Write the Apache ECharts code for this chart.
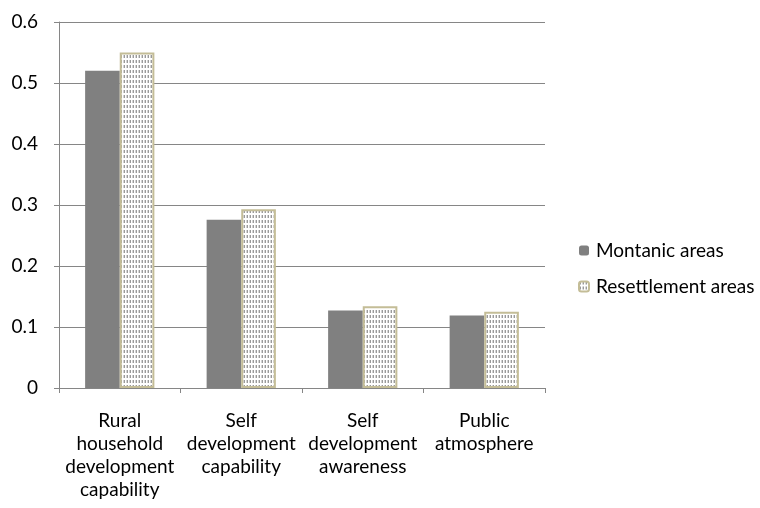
<!DOCTYPE html>
<html>
<head>
<meta charset="utf-8">
<script src="https://cdn.jsdelivr.net/npm/echarts@6/dist/echarts.min.js"></script>
<style>
  html, body { margin: 0; padding: 0; background: #fff; }
  #chart { width: 760px; height: 508px; }
</style>
</head>
<body>
<div id="chart"></div>
<script>
// Dimensions of development capability, by area type
const categories = [
  'Rural\nhousehold\ndevelopment\ncapability',
  'Self\ndevelopment\ncapability',
  'Self\ndevelopment\nawareness',
  'Public\natmosphere'
];
const seriesNames = ['Montanic areas', 'Resettlement areas'];
const montanicValues = [0.52, 0.276, 0.127, 0.119];
const resettlementValues = [0.55, 0.293, 0.134, 0.125];
const yTicks = { min: 0, max: 0.6, interval: 0.1 };

// Small repeating tile: short vertical dashes on white
function makeDashPattern() {
  const c = document.createElement('canvas');
  c.width = 3; c.height = 5;
  const g = c.getContext('2d');
  g.fillStyle = '#ffffff';
  g.fillRect(0, 0, 3, 5);
  g.fillStyle = '#9a9a9a';
  g.fillRect(1, 0, 1, 3);
  g.fillStyle = '#d4d4d4';
  g.fillRect(0, 0, 1, 3);
  return c;
}

const FONT = 'Lato, "Noto Sans", sans-serif';
const FONT_SIZE = 19;
const axisGrey = '#868686';
const chart = echarts.init(document.getElementById('chart'), null, { renderer: 'canvas' });

chart.setOption({
  animation: false,
  textStyle: { fontFamily: FONT },
  grid: { left: 59, right: 215, top: 22, bottom: 120 },
  legend: {
    orient: 'vertical',
    left: 573,
    top: 236,
    itemWidth: 10,
    itemHeight: 10,
    itemGap: 17,
    textStyle: { fontFamily: FONT, fontSize: FONT_SIZE, color: '#000', padding: [0, 0, 0, 2] },
    data: seriesNames
  },
  xAxis: {
    type: 'category',
    data: categories,
    axisLine: { lineStyle: { color: axisGrey, width: 1 } },
    axisTick: { show: true, length: 5, lineStyle: { color: axisGrey } },
    axisLabel: {
      interval: 0,
      margin: 21,
      fontFamily: FONT,
      fontSize: FONT_SIZE,
      lineHeight: 23,
      color: '#000',
      align: 'center'
    }
  },
  yAxis: {
    type: 'value',
    min: yTicks.min,
    max: yTicks.max,
    interval: yTicks.interval,
    axisLine: { show: true, lineStyle: { color: axisGrey, width: 1 } },
    axisTick: { show: true, length: 5, lineStyle: { color: axisGrey } },
    splitLine: { lineStyle: { color: axisGrey, width: 1 } },
    axisLabel: {
      margin: 21,
      fontFamily: FONT,
      fontSize: FONT_SIZE,
      color: '#000',
      formatter: v => String(Math.round(v * 10) / 10)
    }
  },
  series: [
    {
      name: seriesNames[0],
      type: 'bar',
      data: montanicValues,
      barGap: '0%',
      barCategoryGap: '43%',
      itemStyle: { color: '#808080' }
    },
    {
      name: seriesNames[1],
      type: 'bar',
      data: resettlementValues,
      barGap: '0%',
      barCategoryGap: '43%',
      itemStyle: {
        color: { image: makeDashPattern(), repeat: 'repeat' },
        borderColor: '#C4BD97',
        borderWidth: 2
      }
    }
  ]
});
</script>
</body>
</html>
